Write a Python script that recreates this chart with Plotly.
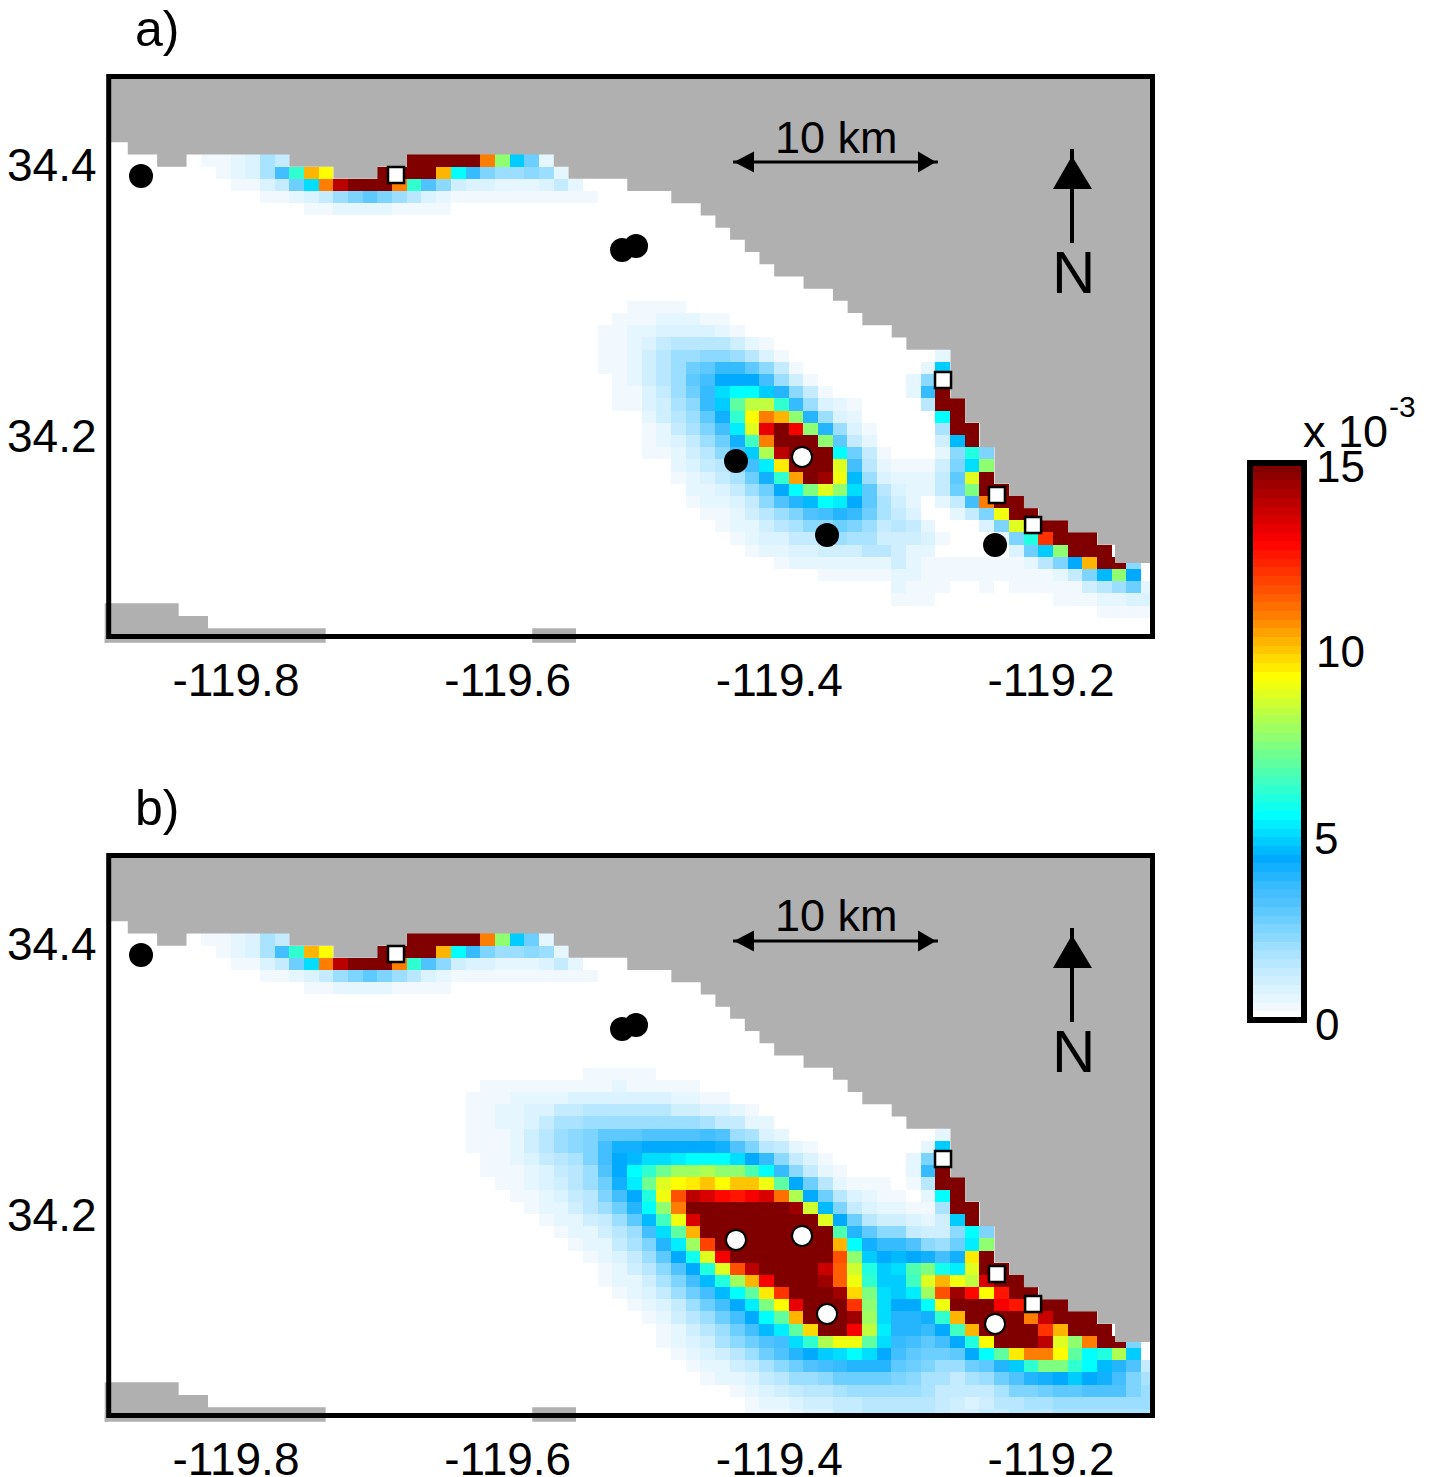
import numpy as np
import plotly.graph_objects as go

W, H = 1434, 1477
FONT = "Liberation Sans"

# ---- geographic extents and ticks
lon_range = [-119.8937, -119.1253]
lat_range = [34.0520, 34.4653]
lon_ticks = [-119.8, -119.6, -119.4, -119.2]
lon_labels = ["-119.8", "-119.6", "-119.4", "-119.2"]
lat_ticks = [34.2, 34.4]
lat_labels = ["34.2", "34.4"]
grid_lon0, grid_dlon = -119.9013, 0.010815
grid_lat0, grid_dlat = 34.4618, -0.0090036

# ---- colour bar ticks
cbar_ticks = [0, 5, 10, 15]
cbar_labels = ["0", "5", "10", "15"]

# ---- stations
open_lon = [-119.8699, -119.5158, -119.5055]
open_lat = [34.3919, 34.3373, 34.3402]
offshore_lon = [-119.4319, -119.3833, -119.3649, -119.2412]
offshore_lat = [34.1816, 34.1845, 34.1269, 34.1196]
square_lon = [-119.6822, -119.2795, -119.2398, -119.2132]
square_lat = [34.3926, 34.2413, 34.1565, 34.1343]

# ---- land outline, in grid columns and rows
coast_cols = [-2, -2, 2, 2, 4, 4, 6, 6, 13, 13, 16, 16, 19, 19, 21, 21, 31, 31, 32, 32, 36, 36, 39, 39, 41, 41, 42, 42,
              43, 43, 44, 44, 45, 45, 46, 46, 48, 48, 50, 50, 51, 51, 52, 52, 54, 54, 55, 55, 58, 58, 59, 59, 60, 60,
              61, 61, 62, 62, 63, 63, 64, 64, 66, 66, 68, 68, 69, 69.2, 69.2, 75, 75]
coast_rows = [-2, 5, 5, 6, 6, 7, 7, 6, 6, 7, 7, 8, 8, 7, 7, 6, 6, 7, 7, 8, 8, 9, 9, 10, 10, 11, 11, 12,
              12, 13, 13, 14, 14, 15, 15, 16, 16, 17, 17, 18, 18, 19, 19, 20, 20, 21, 21, 22, 22, 26, 26, 28, 28, 30,
              30, 33, 33, 34, 34, 35, 35, 36, 36, 37, 37, 38, 38, 38, 39.5, 39.5, -2]
# island / southern land corners
south_lon = [-119.92, -119.8422, -119.8422, -119.8206, -119.8206, -119.7340, -119.7340, -119.92]
south_lat = [34.0765, 34.0765, 34.0672, 34.0672, 34.0581, 34.0581, 34.04, 34.04]
south2_lon = [-119.5819, -119.5497, -119.5497, -119.5819]
south2_lat = [34.0581, 34.0581, 34.04, 34.04]

# ---- panel a values (x 10^-3); each row starts at the column in a_start
a_06 = [.3, .3, .6, .8, 1.7, 1.2] + [0]*8 + [15, 15, 15, 15, 15, 10.9, 7.5, 4.7, 2.6, .6]
a_07 = [.3, .6, .9, 1.7, 3.4, 6.2, 10.1, 9.3, 0, 0, 0, 15, 15, 15, 15, 10.2, 5.5, 3.6, 2.5, 2.0, 2.0, 2.3, 2.1, .6]
a_08 = [.3, .3, .9, 1.4, 2.8, 5.0, 10.9, 14, 15, 15, 15, 11, 6.3, 3.1, 2.2, 1.0, .9, .9, .6, .6, .6, .9, 1.2, .5]
a_09 = [.3, .3, .6, .9, 1.2, 2.0, 2.5, 2.9, 2.5, 1.9, 1.5, .8, .5] + [.25]*10
a_10 = [.3, .3, .6, .6, .6, .6, .25, .25, .25, .25]
a_18 = [.3, .3, .3, .3]
a_19 = [.3, .3, .3, .6, .6, .6, .3, .3]
a_20 = [.3, .3, .6, .6, .9, .9, .9, .9, .6, .3]
a_21 = [.3, .3, .6, .9, 1.2, 1.5, 1.5, 1.5, 1.5, 1.1, .7, .3]
a_22 = [.3, .3, .7, 1.0, 1.5, 2.0, 2.0, 2.2, 2.2, 2.0, 1.5, .9, .3] + [0]*10 + [.6]
a_23 = [.3, .3, .7, 1.0, 1.6, 2.0, 2.7, 3.0, 3.7, 3.7, 3.0, 2.2, 1.2, .3] + [0]*8 + [.5, 4.9]
a_24 = [.3, .6, 1.0, 1.5, 2.1, 2.9, 3.4, 4.3, 4.3, 4.3, 3.4, 2.0, 1.1, .4] + [0]*6 + [.6, 2.2, 15]
a_25 = [.3, .4, .9, 1.3, 2.0, 2.6, 3.7, 5.0, 5.5, 5.5, 4.7, 3.8, 2.3, 1.2, .4] + [0]*5 + [.6, 3.6, 15]
a_26 = [.3, .3, .8, 1.1, 1.7, 2.3, 3.6, 4.9, 6.8, 8.3, 8.3, 6.2, 3.7, 2.0, .9, .6, .3] + [0]*4 + [1.6, 15, 15]
a_27 = [.2, .2, .6, 1.0, 1.5, 2.1, 3.0, 4.2, 6.3, 9.3, 10.9, 10.2, 7.5, 3.8, 2.0, .9, .5, .2, 0, 0, 0, .2, 5.5, 15]
a_28 = [.2, .3, .7, 1.2, 1.8, 2.5, 3.5, 5.3, 8.9, 13.3, 15, 12.9, 7.7, 3.9, 1.9, .9, .3, 0, 0, 0, .2, 1.8, 15, 15]
a_29 = [.3, .5, .9, 1.4, 2.0, 2.8, 4.2, 6.5, 10.8, 15, 15, 15, 7.6, 2.9, 1.3, .7, .2, 0, 0, .2, 1.0, 4.6, 15]
a_30 = [.3, .3, .7, 1.1, 1.6, 2.2, 3.3, 4.7, 8.2, 14, 15, 15, 15, 5.4, 2.6, 1.2, .3, 0, 0, .2, .7, 2.2, 5.9, 2.5]
a_31 = [.2, .5, .8, 1.2, 1.6, 2.3, 3.5, 5.3, 9.4, 15, 15, 15, 8.7, 3.4, 1.6, .6, .3, .3, .3, 1.0, 2.5, 5.1, 7.5]
a_32 = [.2, .3, .6, .9, 1.3, 1.7, 2.6, 4.2, 6.2, 10.4, 15, 14.5, 9.1, 4.6, 2.0, .8, .5, .5, .5, 1.4, 3.0, 8.8, 15]
a_33 = [.2, .5, .6, .9, 1.3, 1.9, 2.8, 4.4, 5.6, 7.4, 8.8, 7.5, 5.1, 3.0, 1.6, .8, .5, .5, 1.3, 2.6, 7.4, 15, 15]
a_34 = [.2, .3, .5, .6, .8, 1.4, 2.3, 3.1, 3.8, 4.6, 5.5, 5.2, 4.4, 2.9, 1.8, 1.0, .5, .2, .7, 1.2, 3.5, 10.9, 15, 15]
a_35 = [.2, .3, .4, .6, 1.0, 1.6, 2.1, 2.5, 3.1, 3.5, 3.8, 3.6, 2.6, 1.7, 1.3, .8, .2, .2, .7, 1.3, 2.4, 9, 15, 15]
a_36 = [.2, .3, .5, .7, 1.1, 1.5, 1.8, 2.2, 2.3, 2.6, 2.5, 2.1, 1.3, 1.5, 1.2, .5, .2, .2, .2, .8, 2.4, 8.7, 15, 15, 15]
a_37 = [.2, .3, .5, .8, .9, 1.3, 1.4, 1.6, 1.9, 1.8, 1.8, 1.0, 1.0, 1.0, .9, .4, .2, 0, .1, .6, 2.4, 6, 12, 15, 15, 15]
a_38 = [.2, .3, .5, .6, .9, .9, 1.1, 1.0, 1.0, 1.5, 1.5, 1.0, .6, .6, .2, .1, 0, .1, .2, .9, 2.6, 4.9, 7.6, 15, 15, 15]
a_39 = [.2, .2, .3, .6, .6, .6, .7, .7, .7, .7, 1.0, .7, .25, .25, .25, .25, .25, .25, .25, .6, 1.6, 2.4, 4.3, 10.2, 15, 15, 2.3]
a_40 = [.2, .2, .2, .3, .3, .4, .4, .4, .7, .6, .25, .25, .25, .25, .25, .25, .25, .25, .3, .7, 1.4, 2.4, 4.6, 7.5, 4.3]
a_41 = [.2, .2, .2, .2, .2, .5, .25, .25, .25, 0, 0, .25, 0, .25, .25, .25, .25, .25, 1.0, 1.5, 2.0, 2.7, .7]
a_42 = [.2, .2, .25, .25, .25] + [0]*8 + [.25, .25, .25, .5, .5, .8, .8]
a_43 = [.2, .2, .2] + [0]*11 + [.25, .25, .25, .25]
a_start = {6: 7, 7: 8, 8: 9, 9: 11, 10: 14, 18: 36, 19: 35, 20: 34, 21: 34, 22: 34, 23: 34, 24: 35, 25: 35, 26: 35,
           27: 35, 28: 36, 29: 37, 30: 37, 31: 38, 32: 38, 33: 39, 34: 39, 35: 40, 36: 41, 37: 42, 38: 43, 39: 44,
           40: 46, 41: 49, 42: 52, 43: 54}
a_rows = {6: a_06, 7: a_07, 8: a_08, 9: a_09, 10: a_10, 18: a_18, 19: a_19, 20: a_20, 21: a_21, 22: a_22, 23: a_23,
          24: a_24, 25: a_25, 26: a_26, 27: a_27, 28: a_28, 29: a_29, 30: a_30, 31: a_31, 32: a_32, 33: a_33, 34: a_34,
          35: a_35, 36: a_36, 37: a_37, 38: a_38, 39: a_39, 40: a_40, 41: a_41, 42: a_42, 43: a_43}

# ---- panel b values (x 10^-3)
b_17 = [.25, .25, .25, .25, .25]
b_18 = [.25]*9 + [.6] + [.25]*5
b_19 = [.25, .25, .25, .5, .5, .5, .5] + [.8]*7 + [.5, .5, .25, .25]
b_20 = [.25, .25, .5, .5, .9, .9, 1.4, 1.4] + [1.5]*6 + [1.1, 1.1, .9, .9, .5, .25]
b_21 = [.25, .25, .5, .6, .9, 1.4, 1.7, 1.7, 2.0, 2.0, 2.0, 2.0, 2.1, 2.1, 2.1, 2.1, 1.7, 1.4, 1.2, .7, .6, .2]
b_22 = [.25, .3, .4, .6, 1.0, 1.5, 2.0, 2.2, 2.4, 3.0, 3.0, 3.0, 3.2, 3.2, 3.2, 3.2, 3.3, 3.1, 2.0, 1.7, .9, .5, .2] + [0]*9 + [.6]
b_23 = [.25, .25, .4, .7, 1.0, 1.5, 1.9, 2.2, 2.5, 3.3, 4.1, 4.2, 4.4, 4.4, 4.4, 4.4, 4.4, 4.2, 3.1, 2.5, 1.6, 1.2, .7, .3] + [0]*7 + [.5, 4.9]
b_24 = [.2, .25, .3, .5, .9, 1.2, 1.5, 1.8, 2.4, 3.3, 4.4, 4.6, 5.0, 5.0, 5.3, 5.6, 5.6, 5.6, 5.1, 4.3, 3.6, 2.2, 1.4, .9, .3] + [0]*5 + [.5, 2.5, 15]
b_25 = [.25, .3, .4, .6, .9, 1.3, 1.6, 2.1, 3.2, 4.4, 5.4, 6.3, 7.2, 7.8, 7.9, 8.2, 7.5, 7.5, 6.7, 5.4, 3.7, 2.3, 1.4, .6, .25] + [0]*4 + [.5, 3.7, 15]
b_26 = [.25, .3, .6, .8, 1.1, 1.5, 1.9, 2.8, 4.2, 5.2, 7.1, 8.7, 9.3, 9.6, 10, 9.2, 10, 10, 9, 6.9, 4.4, 2.6, 1.5, .6, .4, .25, .25, .2, .25, 1.5, 15, 15]
b_27 = [.25, .4, .5, .9, 1.3, 1.6, 2.4, 3.3, 4.3, 6, 9, 11.6, 14, 13.5, 12.8, 12.5, 12.9, 13.5, 11.2, 8.2, 4.4, 2.7, 1.5, .9, .5, .3, .3, .2, .7, 5.5, 15]
b_28 = [.2, .3, .5, .7, 1.1, 1.5, 2.0, 2.8, 3.9, 5.4, 7.7, 10.9] + [15]*7 + [14.5, 8.5, 4.5, 2.5, 1.3, .9, .7, .5, .4, .3, 1.8, 15, 15]
b_29 = [.2, .3, .5, .7, 1.0, 1.4, 2.0, 2.9, 4.5, 6.5, 9.0, 13.5] + [15]*8 + [8.8, 4.3, 2.6, 1.5, 1.0, 1.0, .8, .5, 1.0, 4.7, 15]
b_30 = [.2, .3, .5, .7, 1.0, 1.6, 2.1, 3.3, 5.0, 6.8, 10.3] + [15]*9 + [6.7, 3.8, 2.9, 2.2, 2.2, 1.3, 1.1, 1.1, 2.2, 5.6, 2.4]
b_31 = [.3, .5, .7, 1.2, 1.7, 2.5, 3.8, 5.2, 7.8, 11.8] + [15]*8 + [10.3, 5.4, 4.0, 3.6, 3.6, 3.1, 2.3, 1.9, 2.7, 5.3, 7.5]
b_32 = [.2, .35, .6, .9, 1.4, 2.0, 3.0, 4.4, 5.8, 8.8, 13] + [15]*7 + [11.5, 7.5, 4.7, 4.3, 4.5, 4.4, 4.2, 3.4, 4.2, 9.4, 15]
b_33 = [.2, .4, .6, 1.0, 1.5, 2.2, 3.1, 4.3, 6, 8.8, 11.5, 14, 15, 15, 15, 15, 13.7, 11.3, 8.5, 6, 4.7, 5.1, 6.6, 7.4, 5.7, 5.2, 8.9, 15, 15]
b_34 = [.25, .5, .7, 1.1, 1.7, 2.4, 3.3, 4.5, 6, 7.8, 10.2, 13, 15, 15, 15, 14.5, 11.3, 9.1, 6.3, 4.9, 4.9, 6.5, 8.8, 10.1, 9, 8.3, 13.5, 15, 15]
b_35 = [.3, .5, .8, 1.3, 1.9, 2.6, 3.4, 4.5, 5.5, 7, 9.5, 12, 15, 15, 15, 14.5, 9.8, 7.3, 5, 4.9, 5.3, 7.9, 11.7, 14.5, 12.8, 9.3, 12.5, 15, 15]
b_36 = [.3, .5, .9, 1.4, 2, 2.7, 3.4, 4.3, 5.3, 7.3, 9.3, 13.3, 15, 15, 15, 12, 7.5, 5.1, 4.4, 4.4, 5.6, 9, 15, 15, 15, 13, 12.5, 15, 15, 15]
b_37 = [.3, .6, 1.1, 1.5, 2.1, 2.6, 3.4, 4.4, 5.4, 7, 10.2, 15, 15, 15, 14.5, 7.8, 5.1, 3.9, 3.8, 4.2, 6.2, 10.2, 15, 15, 15, 15, 11, 13.7, 15, 15, 15]
b_38 = [.2, .4, .7, 1.1, 1.5, 2.1, 2.8, 3.5, 4.5, 5.3, 7, 9.7, 15, 15, 13, 8.3, 5.2, 3.9, 3.8, 3.7, 4.3, 6.5, 10.3, 15, 15, 15, 15, 12, 10.3, 15, 15, 15]
b_39 = [.25, .5, .8, 1.1, 1.7, 2.3, 2.6, 3.2, 3.5, 5, 6.3, 8, 9, 9, 7, 5, 3.7, 3.3, 3.0, 3.3, 4.3, 5.9, 9.3, 15, 15, 15, 14, 8.7, 7.6, 11, 15, 15, 2.4]
b_40 = [.25, .5, .8, 1.1, 1.6, 2.1, 2.6, 3.1, 3.8, 4.4, 4.9, 5.1, 5.6, 5.1, 4.3, 3.3, 3.0, 2.6, 2.8, 3.0, 4.3, 5.4, 7, 9.5, 11, 10.9, 9.3, 7, 5.4, 6, 8.1, 4.7]
b_41 = [.25, .5, .7, 1.1, 1.4, 1.7, 2.2, 2.6, 3.1, 3.3, 3.6, 3.9, 3.9, 3.8, 3.0, 2.7, 2.4, 2.1, 2.1, 2.6, 3.0, 3.9, 4.9, 6.1, 7.3, 7.3, 6.3, 5.4, 4.5, 3.8, 3.2, 1.3]
b_42 = [.25, .5, .7, .9, 1.2, 1.6, 1.9, 2.1, 2.3, 2.6, 2.7, 2.7, 2.6, 2.4, 2.2, 1.8, 1.8, 1.4, 1.7, 2.0, 2.6, 3.2, 3.8, 4.1, 4.4, 4.7, 4.3, 4.2, 3.3, 2.4, 1.7]
b_43 = [.2, .4, .6, .8, 1.0, 1.3, 1.5, 1.6, 1.7, 1.9, 1.9, 2.0, 2.0, 1.9, 1.7, 1.3, 1.3, 1.3, 1.4, 1.7, 2.4, 2.5, 2.7, 3.0, 3.0, 3.2, 3.2, 3.2, 2.5, 2.1]
b_44 = [.2, .3, .5, .7, .9, 1.0, 1.1, 1.3, 1.4, 1.5, 1.6, 1.6, 1.6, 1.5, 1.3, 1.0, .9, 1.0, 1.5, 1.6, 1.7, 1.7, 1.9, 2.0, 2.0, 2.0, 2.0, 2.0, 2.0]
b_45 = [.25, .3, .4, .6, .8, .9, 1.2, 1.3, 1.5, 1.6, 1.6, 1.6, 1.5, 1.3, 1.1, 1, 1.2, 1.4, 1.5, 1.6, 1.6, 1.7, 1.7, 1.8, 1.8, 1.8, 1.8, 1.8]
b_start = {6: 7, 7: 8, 8: 9, 9: 11, 10: 14, 17: 33, 18: 26, 19: 25, 20: 25, 21: 25, 22: 25, 23: 25, 24: 25, 25: 26,
           26: 27, 27: 28, 28: 28, 29: 29, 30: 30, 31: 32, 32: 32, 33: 33, 34: 34, 35: 35, 36: 36, 37: 37, 38: 37,
           39: 38, 40: 39, 41: 40, 42: 41, 43: 42, 44: 43, 45: 44}
b_rows = {6: a_06, 7: a_07, 8: a_08, 9: a_09, 10: a_10, 17: b_17, 18: b_18, 19: b_19, 20: b_20, 21: b_21, 22: b_22,
          23: b_23, 24: b_24, 25: b_25, 26: b_26, 27: b_27, 28: b_28, 29: b_29, 30: b_30, 31: b_31, 32: b_32, 33: b_33,
          34: b_34, 35: b_35, 36: b_36, 37: b_37, 38: b_38, 39: b_39, 40: b_40, 41: b_41, 42: b_42, 43: b_43, 44: b_44,
          45: b_45}

# ---- colour map
cmap_v = [0, .25, .6, 1, 1.5, 2, 2.5, 3, 3.6, 4.3, 5.47, 7.4, 9.27, 10.9, 12.96, 15]
cmap_c = ["#ffffff", "#f0f9ff", "#e0f4ff", "#cdeeff", "#b5e6ff", "#95dcff", "#75d2ff", "#55c5ff", "#35baff", "#00aaff",
          "#00ffff", "#80ff80", "#ffff00", "#ff8000", "#ff0000", "#800000"]
LAND = "#b0b0b0"


def stepped_scale(n=64):
    rgb = np.array([[int(c[i:i + 2], 16) for i in (1, 3, 5)] for c in cmap_c], float)
    scale = []
    for i in range(n):
        v = 15 * i / (n - 1)
        col = [int(round(np.interp(v, cmap_v, rgb[:, j]))) for j in range(3)]
        s = f"rgb({col[0]},{col[1]},{col[2]})"
        scale += [[i / n, s], [(i + 1) / n, s]]
    return scale


def grid(rows, starts):
    z = np.zeros((46, 73))
    for n, vals in rows.items():
        s = starts[n]
        z[n, s:s + len(vals)] = vals
    return z


x_edges = grid_lon0 + grid_dlon * np.arange(74)
y_edges = grid_lat0 + grid_dlat * np.arange(47)
land_x = [grid_lon0 + grid_dlon * c for c in coast_cols]
land_y = [grid_lat0 + grid_dlat * r for r in coast_rows]
scale = stepped_scale()


def px(x):
    return x / W


def py(y):
    return 1 - y / H


fig = go.Figure()
for idx, (rows, starts, xa, ya) in enumerate([(a_rows, a_start, "x", "y"), (b_rows, b_start, "x2", "y2")]):
    z = grid(rows, starts)
    fig.add_trace(go.Heatmap(
        x=x_edges, y=y_edges[::-1], z=z[::-1], zmin=0, zmax=15, colorscale=scale, xaxis=xa, yaxis=ya,
        showscale=idx == 0, hoverinfo="skip",
        colorbar=dict(x=px(1250), xanchor="left", xpad=0, y=py(463), yanchor="top", ypad=0,
                      lenmode="pixels", len=557, thicknessmode="pixels", thickness=54,
                      outlinewidth=6, outlinecolor="black", tickmode="array", tickvals=cbar_ticks,
                      ticktext=cbar_labels, ticks="inside", ticklen=6, tickwidth=3, tickcolor="black",
                      showticklabels=False)))
    for lx, ly in [(land_x, land_y), (south_lon, south_lat), (south2_lon, south2_lat)]:
        fig.add_trace(go.Scatter(x=lx, y=ly, mode="lines", fill="toself", fillcolor=LAND, line=dict(width=0),
                                 xaxis=xa, yaxis=ya, hoverinfo="skip", showlegend=False))
    # circles: panel a shows the offshore stations in white only at one site
    if idx == 0:
        blk_x = open_lon + [offshore_lon[0], offshore_lon[2], offshore_lon[3]]
        blk_y = open_lat + [offshore_lat[0], offshore_lat[2], offshore_lat[3]]
        wht_x, wht_y = [offshore_lon[1]], [offshore_lat[1]]
    else:
        blk_x, blk_y = open_lon, open_lat
        wht_x, wht_y = offshore_lon, offshore_lat
    fig.add_trace(go.Scatter(x=blk_x, y=blk_y, mode="markers", marker=dict(size=24, color="black"),
                             xaxis=xa, yaxis=ya, hoverinfo="skip", showlegend=False))
    fig.add_trace(go.Scatter(x=wht_x, y=wht_y, mode="markers",
                             marker=dict(size=20, color="white", line=dict(width=2, color="black")),
                             xaxis=xa, yaxis=ya, hoverinfo="skip", showlegend=False))
    fig.add_trace(go.Scatter(x=square_lon, y=square_lat, mode="markers",
                             marker=dict(size=16, symbol="square", color="white", line=dict(width=2.5, color="black")),
                             xaxis=xa, yaxis=ya, hoverinfo="skip", showlegend=False))

shapes = []
annotations = []


def rect(x0, y0, x1, y1, color):
    shapes.append(dict(type="rect", xref="paper", yref="paper", x0=px(x0), x1=px(x1), y0=py(y0), y1=py(y1),
                       fillcolor=color, line=dict(width=0), layer="above"))


def line(x0, y0, x1, y1, w):
    shapes.append(dict(type="line", xref="paper", yref="paper", x0=px(x0), x1=px(x1), y0=py(y0), y1=py(y1),
                       line=dict(color="black", width=w), layer="above"))


def tri(p1, p2, p3):
    d = "M" + " L".join(f"{px(a):.6f},{py(b):.6f}" for a, b in (p1, p2, p3)) + " Z"
    shapes.append(dict(type="path", xref="paper", yref="paper", path=d, fillcolor="black",
                       line=dict(width=0), layer="above"))


def text(x, y, s, size, anchor="center"):
    annotations.append(dict(xref="paper", yref="paper", x=px(x), y=py(y), text=s, showarrow=False,
                            xanchor=anchor, yanchor="middle", xshift=0, borderpad=0, borderwidth=0,
                            font=dict(family=FONT, size=size, color="black")))


for off, label, top, bot in [(0, "a)", 76.5, 636.5), (779, "b)", 855.5, 1415.5)]:
    # land that spills past the frame
    rect(104.7, bot, 325.7, bot + 6.2, LAND)
    rect(532.3, bot, 576, bot + 6.2, LAND)
    rect(104.7, 603.3 + off, 108.7, bot + 6.2, LAND)
    # frame
    shapes.append(dict(type="rect", xref="paper", yref="paper", x0=px(108.7), x1=px(1152.5), y0=py(top), y1=py(bot),
                       line=dict(color="black", width=5), layer="above"))
    # scale bar
    line(733, 162 + off, 938, 162 + off, 3)
    tri((734, 162 + off), (754, 151.5 + off), (754, 172.5 + off))
    tri((936, 162 + off), (918, 151.5 + off), (918, 172.5 + off))
    text(836, 137 + off, "10 km", 45)
    # north arrow
    line(1072, 149 + off, 1072, 243 + off, 4)
    tri((1072, 156 + off), (1053, 189 + off), (1092, 189 + off))
    text(1073, 272 + off, "N", 60)
    text(135, 30 + off - 1, label, 50, "left")

# colour bar extras
line(1252, 649, 1257, 649, 3)
line(1252, 835, 1257, 835, 3)
text(1303, 431, "x 10", 45, "left")
text(1389, 407, "-3", 30, "left")
for lab, lx, ly in zip(cbar_labels, [1315, 1314, 1316, 1316], [1024, 838, 651, 466]):
    text(lx, ly, lab, 44, "left")

fig.update_layout(
    width=W, height=H, margin=dict(l=0, r=0, t=0, b=0, autoexpand=False),
    paper_bgcolor="white", plot_bgcolor="white", showlegend=False,
    shapes=shapes, annotations=annotations,
    font=dict(family=FONT, color="black"),
)
for name, ydom in [("", (636.5, 76.5)), ("2", (1415.5, 855.5))]:
    fig.update_layout(**{
        f"xaxis{name}": dict(domain=[px(108.7), px(1152.5)], range=lon_range, showgrid=False, zeroline=False,
                             showline=False, tickmode="array", tickvals=lon_ticks, ticktext=lon_labels,
                             ticks="outside", ticklen=3, tickcolor="rgba(0,0,0,0)",
                             tickfont=dict(family=FONT, size=46, color="black"), anchor="y" + name),
        f"yaxis{name}": dict(domain=[py(ydom[0]), py(ydom[1])], range=lat_range, showgrid=False, zeroline=False,
                             showline=False, tickmode="array", tickvals=lat_ticks, ticktext=lat_labels,
                             ticks="outside", ticklen=2, tickcolor="rgba(0,0,0,0)",
                             tickfont=dict(family=FONT, size=46, color="black"), anchor="x" + name),
    })

fig.write_html("out.html", config={"displayModeBar": False},
               post_script="document.body.style.margin='0';document.body.style.overflow='hidden';")
